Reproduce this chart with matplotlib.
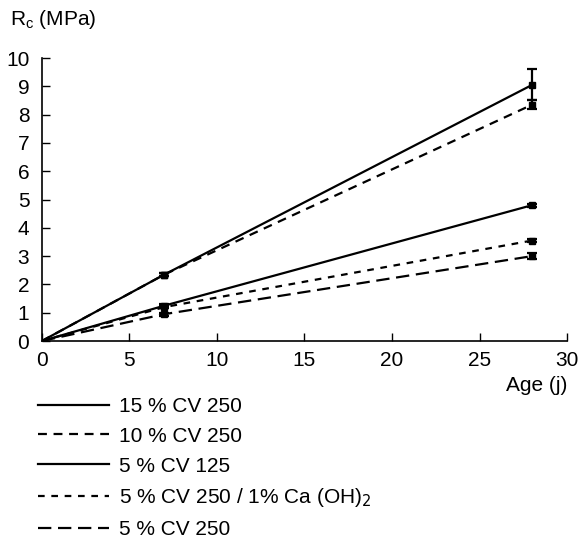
import matplotlib
matplotlib.use("Agg")
import matplotlib.pyplot as plt

plt.rcParams['font.family'] = ['Liberation Sans', 'DejaVu Sans']

ages = [0, 7, 28]
labels = ["15 % CV 250", "10 % CV 250", "5 % CV 125",
          "5 % CV 250 / 1% Ca (OH)$_2$", "5 % CV 250"]
s15_250 = [0, 2.35, 9.05]
s10_250 = [0, 2.35, 8.35]
s5_125 = [0, 1.25, 4.8]
s5_250_ca = [0, 1.2, 3.55]
s5_250 = [0, 0.95, 3.0]
err15 = [0, 0.05, 0.55]
err10 = [0, 0.05, 0.15]
err5_125 = [0, 0.05, 0.05]
err5_ca = [0, 0.05, 0.05]
err5 = [0, 0.05, 0.1]

series = [s15_250, s10_250, s5_125, s5_250_ca, s5_250]
errs = [err15, err10, err5_125, err5_ca, err5]
styles = ['-', (0, (4, 3)), '-', (0, (3, 3)), (0, (6, 3))]

fig = plt.figure(figsize=(5.81, 5.40), dpi=100)
ax = fig.add_axes([0.072, 0.3685, 0.904, 0.524])

handles = []
for y, e, ls, lab in zip(series, errs, styles, labels):
    h, = ax.plot(ages, y, color='black', lw=1.6, linestyle=ls, label=lab)
    ax.errorbar(ages[1:], y[1:], yerr=e[1:], fmt='s', color='black', ms=4,
                capsize=3.5, elinewidth=1.6, capthick=1.6)
    handles.append(h)

ax.set_xlim(0, 30)
ax.set_ylim(0, 10)
ax.set_xticks(range(0, 31, 5))
ax.set_yticks(range(0, 11))
ax.spines['top'].set_visible(False)
ax.spines['right'].set_visible(False)
ax.tick_params(direction='in', length=6, width=1, labelsize=15, colors='black')
ax.tick_params(axis='y', pad=9)
ax.tick_params(axis='x', pad=7)
for s in ax.spines.values():
    s.set_linewidth(1.2)

fig.text(0.017, 0.963, "R$_\\mathregular{c}$ (MPa)", fontsize=15, va='center', ha='left')
fig.text(0.976, 0.287, "Age (j)", fontsize=15, va='center', ha='right')

fig.legend(handles=handles, labels=labels, loc='upper left',
           bbox_to_anchor=(0.065, 0.265), frameon=False, fontsize=15,
           handlelength=3.4, handletextpad=0.5, labelspacing=0.52,
           borderaxespad=0, borderpad=0)

fig.savefig("out.png", dpi=100)
